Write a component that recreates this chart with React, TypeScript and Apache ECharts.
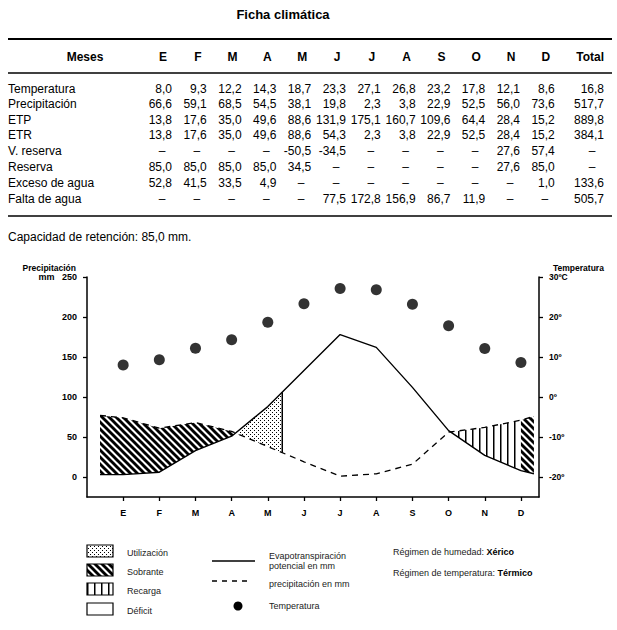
import { useEffect, useRef } from 'react';
import * as echarts from 'echarts';

// ---------- Table data (Ficha climática) ----------
const months = ['E', 'F', 'M', 'A', 'M', 'J', 'J', 'A', 'S', 'O', 'N', 'D'];
const temperatura = [8.0, 9.3, 12.2, 14.3, 18.7, 23.3, 27.1, 26.8, 23.2, 17.8, 12.1, 8.6];
const precipitacion = [66.6, 59.1, 68.5, 54.5, 38.1, 19.8, 2.3, 3.8, 22.9, 52.5, 56.0, 73.6];
const etp = [13.8, 17.6, 35.0, 49.6, 88.6, 131.9, 175.1, 160.7, 109.6, 64.4, 28.4, 15.2];
const etr = [13.8, 17.6, 35.0, 49.6, 88.6, 54.3, 2.3, 3.8, 22.9, 52.5, 28.4, 15.2];
const vReserva = [null, null, null, null, -50.5, -34.5, null, null, null, null, 27.6, 57.4];
const reserva = [85.0, 85.0, 85.0, 85.0, 34.5, null, null, null, null, null, 27.6, 85.0];
const excesoAgua = [52.8, 41.5, 33.5, 4.9, null, null, null, null, null, null, null, 1.0];
const faltaAgua = [null, null, null, null, null, 77.5, 172.8, 156.9, 86.7, 11.9, null, null];
const rowLabels = ['Temperatura', 'Precipitación', 'ETP', 'ETR', 'V. reserva', 'Reserva', 'Exceso de agua', 'Falta de agua'];
const rowTotals = [16.8, 517.7, 889.8, 384.1, null, null, 133.6, 505.7];

// ---------- Diagram curves (as drawn in the diagram, mm) ----------
const precipCurve = [74, 61, 68, 57, 38, 19, 1, 4, 16, 56, 62, 71];
const etpCurve = [3, 6, 33, 51, 88, 133, 178, 162, 112, 58, 27, 8];
const curveStartEnd = [0.36, 12.36]; // month-axis positions where the drawn curves begin / end
const precipEdgeValues = [77, 76];
const etpEdgeValues = [3, 4];
const utilizationEnd = 5.4; // month-axis position of the vertical closing line of "Utilización"

const leftTicks = [0, 50, 100, 150, 200, 250];
const rightTicks = [-20, -10, 0, 10, 20, 30];

const FONT = '"Liberation Sans", Arial, Helvetica, sans-serif';

function fmt(v: number | null) {
  return v == null ? '–' : v.toFixed(1).replace('.', ',');
}

function interp(xs: number[], ys: number[], x: number) {
  for (let i = 0; i < xs.length - 1; i++) {
    if (x >= xs[i] && x <= xs[i + 1]) {
      const t = (x - xs[i]) / (xs[i + 1] - xs[i]);
      return ys[i] + t * (ys[i + 1] - ys[i]);
    }
  }
  return x < xs[0] ? ys[0] : ys[ys.length - 1];
}

function findCross(xs: number[], a: number[], b: number[], dir: number) {
  for (let i = 0; i < xs.length - 1; i++) {
    const d0 = a[i] - b[i];
    const d1 = a[i + 1] - b[i + 1];
    if (dir > 0 ? d0 > 0 && d1 <= 0 : d0 < 0 && d1 >= 0) {
      const t = d0 / (d0 - d1);
      return xs[i] + t * (xs[i + 1] - xs[i]);
    }
  }
  return xs[0];
}

function makePattern(kind: string) {
  const c = document.createElement('canvas');
  const size = kind === 'util' ? 4 : 7;
  c.width = size;
  c.height = size;
  const ctx = c.getContext('2d')!;
  ctx.fillStyle = '#000';
  ctx.strokeStyle = '#000';
  if (kind === 'sobrante') {
    ctx.lineWidth = 2.9;
    for (const o of [-7, 0, 7]) {
      ctx.beginPath();
      ctx.moveTo(o - 2, -2);
      ctx.lineTo(o + 9, 9);
      ctx.stroke();
    }
  } else if (kind === 'recarga') {
    ctx.fillRect(3, 0, 1.5, 7);
  } else {
    ctx.fillRect(0, 0, 1, 1);
    ctx.fillRect(2, 2, 1, 1);
  }
  return { image: c, repeat: 'repeat', imageWidth: size, imageHeight: size };
}

export default function App() {
  const ref = useRef<HTMLDivElement>(null);

  useEffect(() => {
    document.body.style.margin = '0';
    const chart = echarts.init(ref.current!, null, { renderer: 'svg' });

    const monthPos = months.map((_, i) => i + 1);
    const xs = [curveStartEnd[0], ...monthPos, curveStartEnd[1]];
    const P = [precipEdgeValues[0], ...precipCurve, precipEdgeValues[1]];
    const E = [etpEdgeValues[0], ...etpCurve, etpEdgeValues[1]];

    const crossDown = findCross(xs, P, E, 1);
    const crossUp = findCross(xs, P, E, -1);

    const pat = {
      sobrante: makePattern('sobrante'),
      recarga: makePattern('recarga'),
      util: makePattern('util'),
    };

    const regions = [
      { from: xs[0], to: crossDown, upper: P, lower: E, fill: pat.sobrante, edge: false },
      { from: crossDown, to: utilizationEnd, upper: E, lower: P, fill: pat.util, edge: true },
      { from: crossUp, to: 12, upper: P, lower: E, fill: pat.recarga, edge: false },
      { from: 12, to: xs[xs.length - 1], upper: P, lower: E, fill: pat.sobrante, edge: false },
    ];

    // ----- table graphics -----
    const colRight = months.map((_, i) => 172 + i * 34.8);
    const totalRight = 604;
    const rowY = [89, 104, 120, 135, 151, 167, 183, 199];
    const rowData = [temperatura, precipitacion, etp, etr, vReserva, reserva, excesoAgua, faltaAgua];

    const txt = (text: string, x: number, y: number, opts: any = {}) => ({
      type: 'text',
      x,
      y,
      silent: true,
      style: {
        text,
        fill: opts.fill || '#000',
        font: opts.font || `12px ${FONT}`,
        align: opts.align || 'left',
        textAlign: opts.align || 'left',
        verticalAlign: 'middle',
        textVerticalAlign: 'middle',
        rich: opts.rich,
      },
    });
    const hline = (y: number, w: number) => ({
      type: 'line',
      silent: true,
      shape: { x1: 8, y1: y, x2: 612, y2: y },
      style: { stroke: '#000', lineWidth: w },
    });

    const graphics: any[] = [];
    graphics.push(txt('Ficha climática', 283, 14, { font: `bold 13px ${FONT}`, align: 'center' }));
    graphics.push(hline(39, 2));
    graphics.push(hline(73, 1.5));
    graphics.push(hline(216, 1.5));
    graphics.push(txt('Meses', 85, 57, { font: `bold 12px ${FONT}`, align: 'center' }));
    months.forEach((m, i) => graphics.push(txt(m, colRight[i] - 9, 57, { font: `bold 12px ${FONT}`, align: 'center' })));
    graphics.push(txt('Total', totalRight, 57, { font: `bold 12px ${FONT}`, align: 'right' }));

    rowLabels.forEach((lab, r) => {
      graphics.push(txt(lab, 8, rowY[r]));
      rowData[r].forEach((v, i) => {
        if (v == null) graphics.push(txt('–', colRight[i] - 10, rowY[r], { align: 'center' }));
        else graphics.push(txt(fmt(v), colRight[i], rowY[r], { align: 'right' }));
      });
      const t = rowTotals[r];
      if (t == null) graphics.push(txt('–', totalRight - 12, rowY[r], { align: 'center' }));
      else graphics.push(txt(fmt(t), totalRight, rowY[r], { align: 'right' }));
    });
    graphics.push(txt('Capacidad de retención: 85,0 mm.', 8, 237));

    // ----- chart axis titles -----
    graphics.push(txt('Precipitación', 76, 268, { font: `bold 8.5px ${FONT}`, align: 'right' }));
    graphics.push(txt('Temperatura', 553, 268, { font: `bold 8.5px ${FONT}` }));

    // ----- legend -----
    const legFont = `9px ${FONT}`;
    const legFill = '#222';
    const boxes = [
      { label: 'Utilización', fill: pat.util, y: 545 },
      { label: 'Sobrante', fill: pat.sobrante, y: 564 },
      { label: 'Recarga', fill: pat.recarga, y: 583 },
      { label: 'Déficit', fill: '#fff', y: 603 },
    ];
    boxes.forEach((b) => {
      graphics.push({
        type: 'rect',
        silent: true,
        shape: { x: 87, y: b.y, width: 26, height: 12 },
        style: { fill: b.fill, stroke: '#000', lineWidth: 1.2 },
      });
      graphics.push(txt(b.label, 127, b.y + 8, { font: legFont, fill: legFill }));
    });
    graphics.push({
      type: 'line', silent: true,
      shape: { x1: 212, y1: 561, x2: 255, y2: 561 },
      style: { stroke: '#000', lineWidth: 1.3 },
    });
    graphics.push(txt('Evapotranspiración', 269, 556, { font: legFont, fill: legFill }));
    graphics.push(txt('potencial en mm', 269, 566, { font: legFont, fill: legFill }));
    graphics.push({
      type: 'line', silent: true,
      shape: { x1: 212, y1: 581, x2: 250, y2: 581 },
      style: { stroke: '#000', lineWidth: 1.3, lineDash: [5, 5] },
    });
    graphics.push(txt('precipitación en mm', 269, 584, { font: legFont, fill: legFill }));
    graphics.push({
      type: 'circle', silent: true,
      shape: { cx: 238, cy: 606, r: 4.5 },
      style: { fill: '#000' },
    });
    graphics.push(txt('Temperatura', 269, 606, { font: legFont, fill: legFill }));
    graphics.push(
      txt('Régimen de humedad: {b|Xérico}', 393, 552, {
        font: legFont, fill: legFill,
        rich: { b: { fontWeight: 'bold', fontSize: 9, fontFamily: FONT, fill: '#000' } },
      })
    );
    graphics.push(
      txt('Régimen de temperatura: {b|Térmico}', 393, 573, {
        font: legFont, fill: legFill,
        rich: { b: { fontWeight: 'bold', fontSize: 9, fontFamily: FONT, fill: '#000' } },
      })
    );

    const axisLabelBase = { color: '#000', fontWeight: 'bold', fontSize: 9, fontFamily: FONT };

    chart.setOption({
      animation: false,
      backgroundColor: '#fff',
      grid: { left: 87, top: 277, width: 452, height: 220 },
      xAxis: {
        type: 'value',
        min: 0,
        max: 12.5,
        axisLine: { show: true, onZero: false, lineStyle: { color: '#000', width: 1.5 } },
        axisTick: { show: true, customValues: monthPos, length: 4, lineStyle: { color: '#000', width: 1.3 } },
        axisLabel: {
          ...axisLabelBase,
          customValues: monthPos,
          margin: 11,
          formatter: (v: number) => months[Math.round(v) - 1] ?? '',
        },
        splitLine: { show: false },
      },
      yAxis: [
        {
          type: 'value',
          min: -25,
          max: 250,
          position: 'left',
          axisLine: { show: true, onZero: false, lineStyle: { color: '#000', width: 1.5 } },
          axisTick: { show: true, customValues: leftTicks, length: 4, lineStyle: { color: '#000', width: 1.3 } },
          axisLabel: {
            ...axisLabelBase,
            customValues: leftTicks,
            margin: 10,
            formatter: (v: number) => (v === 250 ? 'mm   250' : String(v)),
          },
          splitLine: { show: false },
        },
        {
          type: 'value',
          min: -25,
          max: 30,
          position: 'right',
          axisLine: { show: true, onZero: false, lineStyle: { color: '#000', width: 1.5 } },
          axisTick: { show: true, customValues: rightTicks, length: 4, lineStyle: { color: '#000', width: 1.3 } },
          axisLabel: {
            ...axisLabelBase,
            fontSize: 8.5,
            customValues: rightTicks,
            margin: 10,
            formatter: (v: number) => (v === 30 ? '30ºC' : `${v}º`),
          },
          splitLine: { show: false },
        },
      ],
      graphic: { elements: graphics },
      series: [
        {
          type: 'custom',
          name: 'balance',
          xAxisIndex: 0,
          yAxisIndex: 0,
          z: 1,
          silent: true,
          data: regions.map((r, i) => [r.from, 0, i]),
          encode: { x: 0, y: 1 },
          renderItem: (params: any, api: any) => {
            const r = regions[params.dataIndex];
            const sx = [r.from, ...xs.filter((x) => x > r.from && x < r.to), r.to];
            const up = sx.map((x) => api.coord([x, interp(xs, r.upper, x)]));
            const lo = sx.slice().reverse().map((x) => api.coord([x, interp(xs, r.lower, x)]));
            const children: any[] = [
              { type: 'polygon', shape: { points: [...up, ...lo] }, style: { fill: r.fill, stroke: null } },
            ];
            if (r.edge) {
              const a = up[up.length - 1];
              const b = lo[0];
              children.push({
                type: 'line',
                shape: { x1: a[0], y1: a[1], x2: b[0], y2: b[1] },
                style: { stroke: '#000', lineWidth: 1.5 },
              });
            }
            return { type: 'group', children };
          },
        },
        {
          type: 'line',
          name: 'precipitación en mm',
          z: 3,
          symbol: 'none',
          data: xs.map((x, i) => [x, P[i]]),
          lineStyle: { color: '#000', width: 1.3, type: [6, 5] },
        },
        {
          type: 'line',
          name: 'Evapotranspiración potencial en mm',
          z: 3,
          symbol: 'none',
          data: xs.map((x, i) => [x, E[i]]),
          lineStyle: { color: '#000', width: 1.4 },
        },
        {
          type: 'scatter',
          name: 'Temperatura',
          yAxisIndex: 1,
          z: 4,
          symbolSize: 11,
          itemStyle: { color: '#000' },
          data: temperatura.map((t, i) => [i + 1, t]),
        },
      ],
    });

    return () => chart.dispose();
  }, []);

  return <div ref={ref} style={{ position: 'absolute', left: 0, top: 0, width: 617, height: 630 }} />;
}
